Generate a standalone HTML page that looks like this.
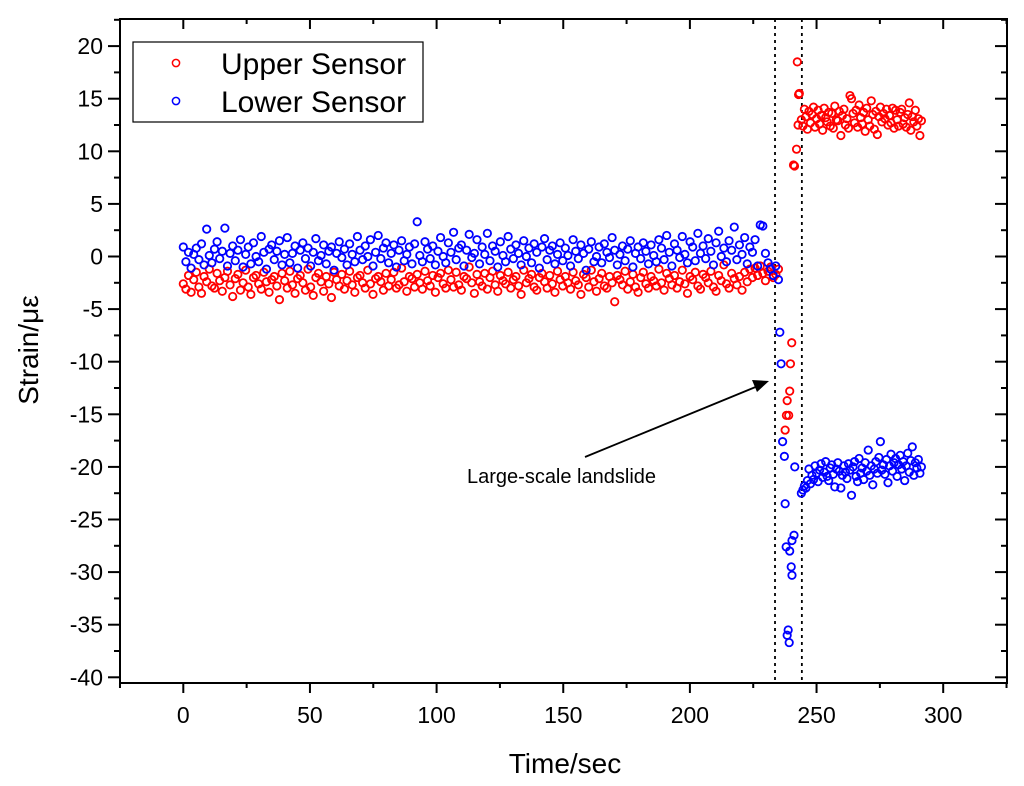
<!DOCTYPE html>
<html><head><meta charset="utf-8"><style>
html,body{margin:0;padding:0;background:#fff;}
svg{display:block;font-family:"Liberation Sans",Arial,sans-serif;}
</style></head><body>
<svg id="chart" width="1024" height="786" viewBox="0 0 1024 786">
<g id="axes"></g>
<g id="marks"></g>
</svg>
<script>
const xTicks=[0,50,100,150,200,250,300];
const yTicks=[20,15,10,5,0,-5,-10,-15,-20,-25,-30,-35,-40];
const eventLines=[233.6,244.2];
const upperBase=[-2.6,-3.1,-1.8,-3.4,-2.2,-1.5,-2.9,-3.5,-1.9,-2.4,-1.2,-2.8,-3.0,-1.6,-2.3,-3.3,-2.0,-1.4,-2.7,-3.8,
-2.1,-1.7,-3.2,-2.5,-1.3,-2.9,-3.6,-2.0,-1.8,-2.6,-3.1,-1.5,-2.4,-3.4,-2.2,-1.9,-2.8,-4.1,-1.6,-2.3,
-3.0,-1.4,-2.7,-3.5,-2.1,-1.8,-2.5,-3.2,-1.2,-2.9,-3.7,-2.0,-1.6,-2.4,-3.3,-1.9,-2.6,-3.9,-1.5,-2.2,
-2.8,-1.7,-3.1,-2.3,-1.4,-2.7,-3.4,-2.0,-1.8,-2.5,-3.0,-1.3,-2.6,-3.6,-2.1,-1.9,-2.4,-3.2,-1.6,-2.8,
-2.2,-1.5,-3.0,-2.7,-1.1,-2.4,-3.3,-1.9,-2.1,-2.9,-1.7,-2.5,-3.1,-1.4,-2.3,-2.8,-1.8,-3.4,-2.0,-1.6,
-2.6,-3.0,-1.3,-2.2,-2.9,-1.5,-2.7,-3.2,-1.9,-2.1,-1.0,-2.5,-3.5,-1.7,-2.4,-2.8,-1.6,-3.1,-2.0,-1.4,
-2.7,-3.3,-1.8,-2.3,-2.6,-1.5,-3.0,-2.2,-1.9,-2.8,-3.6,-1.3,-2.5,-2.1,-1.7,-2.9,-3.2,-2.0,-1.6,-2.4,
-3.0,-1.8,-2.6,-3.4,-1.4,-2.2,-2.8,-1.9,-2.5,-3.1,-1.5,-2.3,-2.7,-3.6,-1.7,-2.0,-2.9,-1.3,-2.4,-3.3,
-2.1,-1.6,-2.8,-3.0,-1.9,-2.5,-4.3,-1.8,-2.2,-2.7,-1.4,-3.1,-2.4,-1.7,-2.9,-3.4,-2.0,-1.5,-2.6,-3.0,
-1.9,-2.3,-2.8,-1.2,-2.5,-3.2,-1.6,-2.1,-2.7,-1.8,-3.0,-2.4,-1.3,-2.6,-3.5,-1.9,-2.2,-1.5,-2.8,-3.1,
-1.7,-2.0,-2.5,-1.4,-2.9,-3.3,-1.8,-2.3,-0.8,-2.6,-3.0,-1.6,-2.1,-2.7,-1.9,-3.2,-1.5,-2.4,-1.2,-2.0,
-1.1,-1.8,-0.9,-1.6,-2.3,-1.4,-1.0,-2.0,-1.7,-1.2];
const lowerBase=[0.9,-0.5,0.4,-1.1,0.2,0.8,-0.3,1.2,-0.8,2.6,0.1,-0.6,0.7,1.4,-0.2,0.5,2.7,-0.9,0.3,1.0,
-0.4,0.6,1.6,-1.0,0.2,0.9,-0.7,1.3,0.0,-0.5,1.9,0.4,-1.2,0.7,1.1,-0.3,0.5,1.5,-0.8,0.2,
1.8,-0.6,0.3,1.0,-1.1,0.6,1.3,-0.2,0.8,-0.9,0.4,1.7,-0.4,0.1,1.1,-0.7,0.5,0.9,-1.3,0.3,
1.4,-0.1,0.7,-0.8,1.2,0.2,-0.5,1.9,0.6,-0.3,1.0,0.0,1.6,-0.9,0.4,2.0,-0.2,0.8,1.3,-0.6,
0.3,1.1,-1.0,0.6,1.5,-0.4,0.2,0.9,-0.7,1.2,3.3,0.1,-0.5,1.4,0.7,-0.2,1.0,-0.8,0.5,1.8,
0.0,-0.6,1.3,0.4,2.3,-0.3,0.8,1.1,-0.9,0.6,2.1,-0.1,0.3,1.6,-0.7,0.9,0.2,2.2,-0.4,1.0,
0.5,-1.0,1.4,0.1,-0.5,1.9,0.7,-0.2,1.1,0.3,-0.8,1.5,0.0,0.8,-0.6,1.2,0.4,-1.1,0.9,1.7,
-0.3,0.6,1.0,-0.7,0.2,1.3,-0.4,0.8,0.1,-0.9,1.6,0.5,-0.2,1.1,0.3,-1.3,0.7,1.4,-0.5,0.0,
0.9,-0.6,1.2,0.4,-0.1,1.8,0.6,-0.8,0.2,1.0,-0.4,0.7,1.5,-1.0,0.3,0.9,-0.2,1.3,0.5,-0.7,
1.1,0.1,-0.5,1.6,0.8,-0.3,2.0,0.4,-0.9,1.2,0.6,-0.1,1.9,0.2,-0.6,1.4,0.9,-0.4,2.2,0.3,
1.0,-0.2,1.7,0.5,-0.8,1.3,2.4,0.0,0.8,-0.5,1.5,0.6,2.8,-0.3,1.1,0.2,1.8,-0.7,0.9,0.4,
1.6,-0.9,3.0,2.9,0.3,-0.6,-1.2,-1.8,-0.9,-2.2];
const baseStep=1.026;
const upperEventT=[237.6,238.1,238.4,239.0,239.4,239.7,240.2,240.9,241.3,242.1,242.7,243.2,242.9,242.4];
const upperEventV=[-16.5,-15.1,-13.7,-15.1,-12.8,-10.2,-8.2,8.7,8.6,10.2,12.5,15.5,15.4,18.5];
const lowerEventT=[235.5,236.0,236.6,237.3,237.6,238.0,239.4,241.1,240.3,240.0,240.3,238.8,238.4,239.2,241.4];
const lowerEventV=[-7.2,-10.2,-17.6,-19.0,-23.5,-27.6,-28.0,-26.5,-27.0,-29.5,-30.3,-35.5,-36.0,-36.7,-20.0];
const postStart=244, postStep=0.6;
const upperPost=[13.0,12.4,14.0,13.3,12.1,13.8,12.7,13.5,14.2,12.3,13.1,13.9,12.6,13.4,12.0,14.1,13.2,12.8,13.7,12.4,
13.6,12.2,14.3,13.0,12.9,13.8,11.5,13.4,14.0,12.5,13.1,12.2,15.3,15.0,13.6,12.7,13.9,12.3,14.4,13.2,
12.6,13.7,11.9,14.1,13.0,12.4,14.8,13.5,12.1,13.8,11.6,13.3,14.2,12.8,13.6,13.1,14.0,12.5,13.4,12.7,
14.1,12.2,13.9,13.0,12.4,13.7,14.0,12.6,13.2,12.3,13.5,14.6,12.0,13.3,12.8,13.9,12.4,13.1,11.5,12.9];
const lowerPost=[-22.5,-22.2,-21.8,-22.0,-21.3,-20.2,-21.6,-20.8,-21.2,-19.9,-20.6,-21.4,-20.3,-19.7,-21.0,-20.5,-19.5,-20.9,-21.3,-20.1,
-19.8,-20.7,-21.9,-20.2,-19.6,-20.4,-22.0,-20.8,-19.9,-20.5,-21.1,-19.7,-20.3,-22.7,-20.0,-19.5,-20.9,-21.4,-19.2,-20.6,
-20.1,-21.2,-19.6,-20.4,-18.4,-20.8,-19.9,-21.7,-20.2,-19.5,-20.6,-19.1,-17.6,-20.3,-19.8,-20.7,-19.3,-21.5,-19.9,-18.8,
-20.4,-19.6,-19.2,-20.9,-19.8,-18.9,-20.2,-19.5,-21.3,-19.9,-18.7,-20.5,-19.4,-18.1,-20.8,-19.6,-20.1,-19.3,-20.6,-20.0];

const NS='http://www.w3.org/2000/svg';
const L=120,R=1007,T=19,B=683;
const xs=t=>183.3+t*2.533;
const ys=v=>256.5-v*10.52;
const axes=document.getElementById('axes'), marks=document.getElementById('marks');
function mk(tag,attrs,parent){const e=document.createElementNS(NS,tag);for(const k in attrs)e.setAttribute(k,attrs[k]);parent.appendChild(e);return e;}

const frame=mk('rect',{x:L,y:T,width:R-L,height:B-T,fill:'none',stroke:'#000','stroke-width':2},axes);


for(let t=-25;t<=325;t+=25){
  const major=t%50===0;const x=xs(t);
  const tk=mk('line',{x1:x,x2:x,y1:B,y2:B+(major?10:5),stroke:'#000','stroke-width':2},axes);
  
  
  const tt=mk('line',{x1:x,x2:x,y1:T,y2:T+(major?10:5),stroke:'#000','stroke-width':2},axes);
  
  
}
xTicks.forEach(t=>{
  const tx=mk('text',{x:xs(t),y:723,'text-anchor':'middle','font-size':23,fill:'#000'},axes);
  tx.textContent=t;
  
  
});
for(let v=-40;v<=22.5;v+=2.5){
  const major=v%5===0;const y=ys(v);
  const tk=mk('line',{x1:L-(major?12:6),x2:L,y1:y,y2:y,stroke:'#000','stroke-width':2},axes);
  
  
  const tr=mk('line',{x1:R-(major?12:6),x2:R,y1:y,y2:y,stroke:'#000','stroke-width':2},axes);
  
  
}
yTicks.forEach(v=>{
  const ty=mk('text',{x:103,y:ys(v)+8,'text-anchor':'end','font-size':23,fill:'#000'},axes);
  ty.textContent=v;
  
  
});
const xt=mk('text',{x:565,y:773,'text-anchor':'middle','font-size':28,fill:'#000'},axes);
xt.textContent='Time/sec';


const yt=mk('text',{x:0,y:0,'text-anchor':'middle','font-size':28,fill:'#000',transform:'translate(38,350) rotate(-90)'},axes);
yt.textContent='Strain/με';



eventLines.forEach(t=>{
  const el=mk('line',{x1:xs(t),x2:xs(t),y1:T,y2:B,stroke:'#000','stroke-width':1.8,'stroke-dasharray':'3,4'},marks);
  
  
});

function dot(t,v,color,name){
  const c=mk('circle',{cx:xs(t),cy:ys(v),r:3.7,fill:'none',stroke:color,'stroke-width':1.8},marks);
  
  
}
upperBase.forEach((v,i)=>dot(i*baseStep,v,'#ff0000','upper-sensor-point'));
lowerBase.forEach((v,i)=>dot(i*baseStep,v,'#0000ff','lower-sensor-point'));
upperEventT.forEach((t,i)=>dot(t,upperEventV[i],'#ff0000','upper-sensor-point'));
lowerEventT.forEach((t,i)=>dot(t,lowerEventV[i],'#0000ff','lower-sensor-point'));
upperPost.forEach((v,i)=>dot(postStart+i*postStep,v,'#ff0000','upper-sensor-point'));
lowerPost.forEach((v,i)=>dot(postStart+i*postStep,v,'#0000ff','lower-sensor-point'));

const ar=mk('line',{x1:585,y1:457,x2:758,y2:386,stroke:'#000','stroke-width':1.8},marks);


const ah=mk('polygon',{points:'769,381 752,380 757,392',fill:'#000'},marks);


const at=mk('text',{x:467,y:483,'font-size':20,fill:'#000'},marks);
at.textContent='Large-scale landslide';



const lg=mk('g',{},marks);


const lb=mk('rect',{x:133,y:42,width:290,height:80,fill:'#fff',stroke:'#000','stroke-width':1.2},lg);


[['Upper Sensor','#ff0000',63],['Lower Sensor','#0000ff',101]].forEach(([lab,col,y])=>{
  const c=mk('circle',{cx:176,cy:y,r:3.6,fill:'none',stroke:col,'stroke-width':1.5},lg);
  
  
  const tx=mk('text',{x:221,y:y+11,'font-size':30,fill:'#000'},lg);
  tx.textContent=lab;
  
  
});
</script>
</body></html>
